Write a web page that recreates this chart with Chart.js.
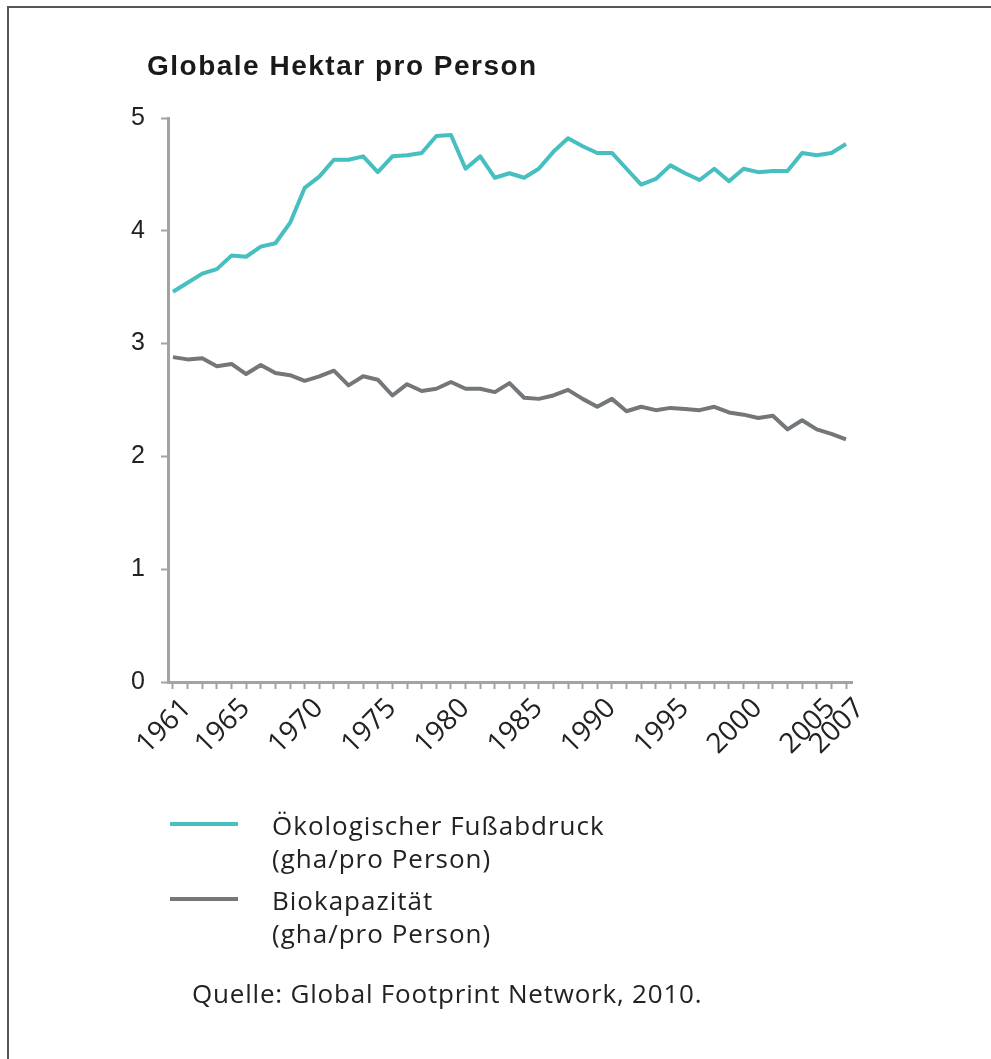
<!DOCTYPE html>
<html>
<head>
<meta charset="utf-8">
<script src="https://cdn.jsdelivr.net/npm/chart.js@4"></script>
<style>
  html, body { margin: 0; padding: 0; background: #fff; }
  body { width: 991px; height: 1059px; position: relative; overflow: hidden; }
  #frame { position: absolute; left: 7px; top: 6px; width: 1000px; height: 1100px;
           border-top: 2px solid #555; border-left: 2px solid #555; }
  #wrap { position: absolute; left: 0; top: 0; width: 991px; height: 1059px; }
  .title { position: absolute; left: 147px; top: 50px; font: bold 28px "Liberation Sans", Arial, sans-serif;
           letter-spacing: 1.5px; color: #1a1a1a; }
  .leg { position: absolute; left: 272px; font: 26px "Open Sans", sans-serif; color: #222;
         line-height: 33px; letter-spacing: 1px; }
  .swatch { position: absolute; left: 170px; width: 68px; height: 4px; }
  .src { position: absolute; left: 192px; top: 975px; font: 26px "Open Sans", sans-serif; color: #222;
         letter-spacing: 0.8px; }
</style>
</head>
<body>
<div id="frame"></div>
<div id="wrap"><canvas id="myChart" width="991" height="1059"></canvas></div>
<div class="title">Globale Hektar pro Person</div>
<div class="swatch" style="top:822px;background:#47bfc0"></div>
<div class="leg" style="top:809px">Ökologischer Fußabdruck<br>(gha/pro Person)</div>
<div class="swatch" style="top:897px;background:#73777a"></div>
<div class="leg" style="top:884px">Biokapazität<br>(gha/pro Person)</div>
<div class="src">Quelle: Global Footprint Network, 2010.</div>
<script>
const years = [];
for (let y = 1961; y <= 2007; y++) years.push(y);

const labeledYears = [1961, 1965, 1970, 1975, 1980, 1985, 1990, 1995, 2000, 2005, 2007];

const footprint = [
  3.46, 3.54, 3.62, 3.66, 3.78, 3.77, 3.86, 3.89, 4.07, 4.38,
  4.48, 4.63, 4.63, 4.66, 4.52, 4.66, 4.67, 4.69, 4.84, 4.85,
  4.55, 4.66, 4.47, 4.51, 4.47, 4.55, 4.70, 4.82, 4.75, 4.69,
  4.69, 4.55, 4.41, 4.46, 4.58, 4.51, 4.45, 4.55, 4.44, 4.55,
  4.52, 4.53, 4.53, 4.69, 4.67, 4.69, 4.77,
];

const biocapacity = [
  2.88, 2.86, 2.87, 2.80, 2.82, 2.73, 2.81, 2.74, 2.72, 2.67,
  2.71, 2.76, 2.63, 2.71, 2.68, 2.54, 2.64, 2.58, 2.60, 2.66,
  2.60, 2.60, 2.57, 2.65, 2.52, 2.51, 2.54, 2.59, 2.51, 2.44,
  2.51, 2.40, 2.44, 2.41, 2.43, 2.42, 2.41, 2.44, 2.39, 2.37,
  2.34, 2.36, 2.24, 2.32, 2.24, 2.20, 2.15,
];

const yTicks = [0, 1, 2, 3, 4, 5];

const teal = "#47bfc0";
const grey = "#73777a";
const axisGrey = "#a3a3a3";

const toPoints = (vals) => vals.map((v, i) => ({ x: years[i], y: v }));

const ctx = document.getElementById("myChart").getContext("2d");
new Chart(ctx, {
  type: "line",
  data: {
    datasets: [
      {
        label: "Ökologischer Fußabdruck (gha/pro Person)",
        data: toPoints(footprint),
        borderColor: teal,
        borderWidth: 4,
        pointRadius: 0,
        tension: 0,
        borderJoinStyle: "round",
      },
      {
        label: "Biokapazität (gha/pro Person)",
        data: toPoints(biocapacity),
        borderColor: grey,
        borderWidth: 4,
        pointRadius: 0,
        tension: 0,
        borderJoinStyle: "round",
      },
    ],
  },
  options: {
    responsive: false,
    animation: false,
    layout: { padding: { left: 108, top: 118, right: 139, bottom: 267 } },
    plugins: { legend: { display: false }, tooltip: { enabled: false } },
    scales: {
      x: {
        type: "linear",
        min: 1960.66,
        max: 2007.41,
        afterFit(scale) { scale.height = 110; },
        afterBuildTicks(scale) { scale.ticks = years.map((v) => ({ value: v })); },
        border: { color: axisGrey, width: 3 },
        grid: { drawOnChartArea: false, drawTicks: true, tickLength: 7, tickColor: axisGrey, tickWidth: 2 },
        ticks: {
          autoSkip: false,
          minRotation: 45,
          maxRotation: 45,
          padding: 3,
          labelOffset: 14,
          color: "#222",
          font: { family: "'Open Sans', sans-serif", size: 28 },
          callback: (v) => (labeledYears.includes(v) ? String(v) : ""),
        },
      },
      y: {
        min: 0,
        max: 5,
        afterFit(scale) { scale.width = 60; },
        afterBuildTicks(scale) { scale.ticks = yTicks.map((v) => ({ value: v })); },
        border: { color: axisGrey, width: 3 },
        grid: { drawOnChartArea: false, drawTicks: true, tickLength: 7, tickColor: axisGrey, tickWidth: 2 },
        ticks: {
          padding: 16,
          color: "#222",
          font: { family: "'Liberation Sans', Arial, sans-serif", size: 25 },
        },
      },
    },
  },
});
</script>
</body>
</html>
